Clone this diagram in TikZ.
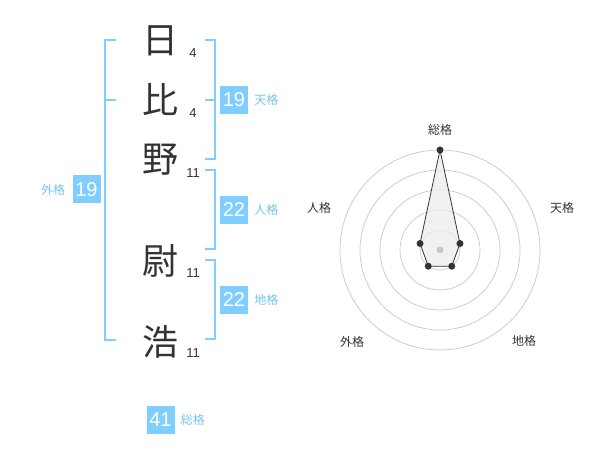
\documentclass[tikz,border=0pt]{standalone}
\usepackage{fontspec}
\setmainfont{Liberation Sans}
\newfontfamily\jpfont{Noto Sans CJK JP}
\usepackage{xcolor}
\usetikzlibrary{positioning}
\definecolor{kakublue}{RGB}{128,206,255}
\definecolor{kakutext}{RGB}{118,196,242}
\definecolor{inkgray}{RGB}{51,51,51}

\begin{document}
\begin{tikzpicture}[x=1pt, y=-1pt,
  kanji/.style={font=\jpfont\fontsize{36}{36}\selectfont, text=inkgray, inner sep=0pt},
  strokes/.style={font=\fontsize{13}{13}\selectfont, text=inkgray, inner sep=0pt},
  numbox/.style={fill=kakublue, text=white, minimum width=28pt, minimum height=28pt, inner sep=0pt, font=\fontsize{20}{20}\selectfont},
  kakulabel/.style={font=\jpfont\fontsize{12}{12}\selectfont, text=kakutext, inner sep=0pt},
  bracket/.style={draw=kakublue, line width=2pt},
  ring/.style={draw=black!22, line width=0.7pt},
  axislabel/.style={font=\jpfont\fontsize{12}{12}\selectfont, text=inkgray, inner sep=0pt},
  dot/.style={circle, fill=inkgray, inner sep=0pt, minimum size=7pt}]
  \useasboundingbox (0,0) rectangle (600,470);

  % Name characters and stroke counts
  \node[kanji] (c1) at (160,41) {日};
  \node[kanji] (c2) at (160,100) {比};
  \node[kanji] (c3) at (160,160) {野};
  \node[kanji] (c4) at (160,261) {尉};
  \node[kanji] (c5) at (160,342) {浩};
  \node[strokes] (s1) at (193,53) {4};
  \node[strokes] (s2) at (193,113) {4};
  \node[strokes] (s3) at (193,173) {11};
  \node[strokes] (s4) at (193,273) {11};
  \node[strokes] (s5) at (193,353) {11};

  % Outer bracket (gaikaku)
  \draw[bracket] (116,40) -- (105,40) -- (105,340) -- (116,340);
  \draw[bracket] (105,100) -- (116,100);
  \node[numbox] (gai) at (86.5,189.5) {19};
  \node[kakulabel, left=7pt of gai] (gai-lbl) {外格};

  % Right brackets
  \draw[bracket] (205,40) -- (215,40) -- (215,159) -- (205,159);
  \draw[bracket] (205,100) -- (215,100);
  \node[numbox] (ten) at (234,100) {19};
  \node[kakulabel, right=6pt of ten] (ten-lbl) {天格};

  \draw[bracket] (205,170) -- (215,170) -- (215,249) -- (205,249);
  \node[numbox] (jin) at (234,210) {22};
  \node[kakulabel, right=6pt of jin] (jin-lbl) {人格};

  \draw[bracket] (205,260) -- (215,260) -- (215,339) -- (205,339);
  \node[numbox] (chi) at (234,300) {22};
  \node[kakulabel, right=6pt of chi] (chi-lbl) {地格};

  % Total
  \node[numbox] (sou) at (160.5,419.5) {41};
  \node[kakulabel, right=6pt of sou] (sou-lbl) {総格};

  % Radar chart
  \begin{scope}[shift={(440,250)}]
    \foreach \r in {20,40,60,80,100}
      \draw[ring] (0,0) circle[radius=\r pt];
    \coordinate (r-sou) at (-90:100);
    \coordinate (r-ten) at (-18:21);
    \coordinate (r-chi) at (54:20);
    \coordinate (r-gai) at (126:20);
    \coordinate (r-jin) at (198:21);
    \draw[draw=inkgray, fill=black!7, fill opacity=0.8, line width=0.8pt]
      (r-sou) -- (r-ten) -- (r-chi) -- (r-gai) -- (r-jin) -- cycle;
    \node[circle, fill=black!22, inner sep=0pt, minimum size=7pt] (hub) at (0,0) {};
    \foreach \p in {sou,ten,chi,gai,jin}
      \node[dot] (d-\p) at (r-\p) {};
  \end{scope}
  \node[axislabel] (ax-sou) at (440,130) {総格};
  \node[axislabel] (ax-ten) at (562,208) {天格};
  \node[axislabel] (ax-jin) at (319,208) {人格};
  \node[axislabel] (ax-gai) at (352,342) {外格};
  \node[axislabel] (ax-chi) at (524,341) {地格};
\end{tikzpicture}
\end{document}
